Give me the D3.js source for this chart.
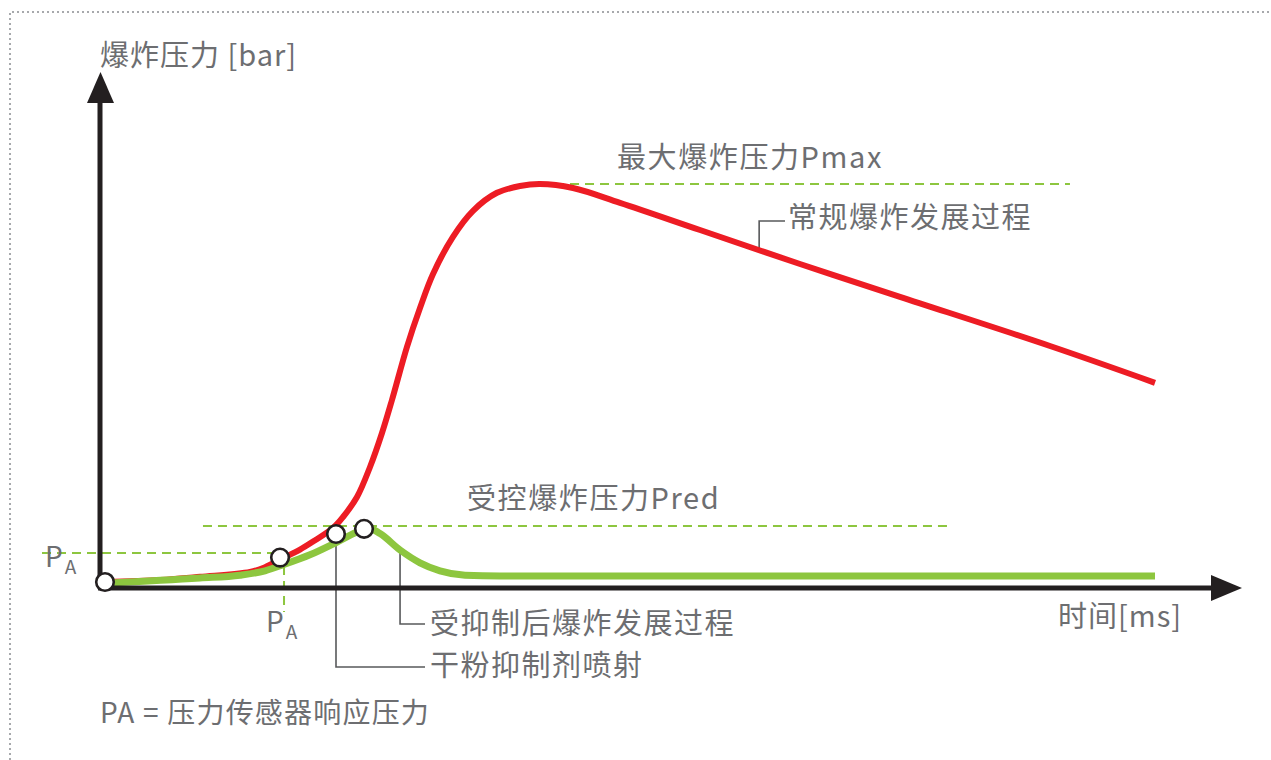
<!DOCTYPE html>
<html><head><meta charset="utf-8">
<script src="https://cdn.jsdelivr.net/npm/d3@7"></script>
<style>
html,body{margin:0;padding:0;background:#fff;}
svg{display:block;}
text{font-family:"Noto Sans CJK SC","Noto Sans",sans-serif;fill:#6d6e71;}
</style></head>
<body>
<svg id="c" width="1271" height="760"></svg>
<script>
// time [ms] (relative units 0..100), pressure [bar] (relative units, Pmax = 10)
const redT = [0,5.24,9.05,13.81,15.24,16.67,18.57,19.81,21.71,22.67,24.0,25.24,26.38,27.33,28.76,30,31.24,33.14,35.05,37.33,39.52,41.43,44.57,49.05,56.67,66.19,75.71,90,100];
const redP = [0.05,0.1,0.18,0.3,0.42,0.61,0.86,1.06,1.4,1.675,2.175,2.925,3.775,4.6,5.93,6.9,7.75,8.68,9.33,9.78,9.95,10,9.9,9.53,8.85,8.0,7.18,5.95,5.03];
const greenT = [0,9.05,12.86,15.24,16.95,19.52,22.1,24,25.05,26.19,28.1,30,31.9,34.29,37.62,100];
const greenP = [0.02,0.15,0.22,0.33,0.48,0.73,1.05,1.3,1.4,1.26,0.85,0.53,0.33,0.22,0.2,0.2];
const markerT = [0,16.67,22,24.67];
const markerP = [0.05,0.66,1.25,1.38];
const pMax = 10, pMaxRange = [41.43,91.9];
const pRed = 1.45, pRedRange = [9.33,80.3];
const pA = 0.775, tA = 17.05;
const tSpray = 22, pSpray = 1.25;
const tSuppressed = 28.1, pSuppressed = 0.85;
const tNormal = 62.3, pNormal = 8.35;

const labels = {
  yAxis: "爆炸压力 [bar]", xAxis: "时间[ms]", pmax: "最大爆炸压力Pmax", pred: "受控爆炸压力Pred",
  normal: "常规爆炸发展过程", suppressed: "受抑制后爆炸发展过程", spray: "干粉抑制剂喷射",
  note: "PA = 压力传感器响应压力"
};

const svg = d3.select("#c");
const x = d3.scaleLinear().domain([0,100]).range([105,1155]);
const y = d3.scaleLinear().domain([0,10]).range([584,184]);
const GREEN = "#8dc63f", RED = "#ed1c24", DARK = "#231f20", GRAY = "#58595b";

// dotted frame
svg.append("path").attr("d","M10,760 L10,12 L1271,12").attr("fill","none")
  .attr("stroke","#a7a9ac").attr("stroke-width",2).attr("stroke-dasharray","2,3");

// dashed reference lines
const dash = (x1,y1,x2,y2)=>svg.append("line").attr("x1",x1).attr("y1",y1).attr("x2",x2).attr("y2",y2)
  .attr("stroke",GREEN).attr("stroke-width",2).attr("stroke-dasharray","9,6");
dash(x(pMaxRange[0]),y(pMax),x(pMaxRange[1]),y(pMax));
dash(x(pRedRange[0]),y(pRed),x(pRedRange[1]),y(pRed));
dash(42,y(pA),x(tA)-8,y(pA));
dash(x(tA),y(pA)+13,x(tA),612);

// leader lines
const lead = pts => svg.append("path").attr("d",d3.line()(pts)).attr("fill","none")
  .attr("stroke",GRAY).attr("stroke-width",1.6);
lead([[x(tNormal),y(pNormal)],[x(tNormal),221],[785,221]]);
lead([[x(tSuppressed),y(pSuppressed)],[x(tSuppressed),624],[425,624]]);
lead([[x(tSpray),y(pSpray)],[x(tSpray),667],[425,667]]);

// curves
const redLine = d3.line().x(d=>x(d[0])).y(d=>y(d[1])).curve(d3.curveCatmullRom.alpha(0.5));
const greenLine = d3.line().x(d=>x(d[0])).y(d=>y(d[1])).curve(d3.curveMonotoneX);
svg.append("path").datum(redT.map((t,i)=>[t,redP[i]])).attr("d",redLine)
  .attr("fill","none").attr("stroke",RED).attr("stroke-width",6);
svg.append("path").datum(greenT.map((t,i)=>[t,greenP[i]])).attr("d",greenLine)
  .attr("fill","none").attr("stroke",GREEN).attr("stroke-width",7);

// axes
svg.append("line").attr("x1",100).attr("y1",588).attr("x2",100).attr("y2",100).attr("stroke",DARK).attr("stroke-width",5);
svg.append("path").attr("d","M87,103 L114,103 L100.5,72 Z").attr("fill",DARK);
svg.append("line").attr("x1",98).attr("y1",588).attr("x2",1214).attr("y2",588).attr("stroke",DARK).attr("stroke-width",5);
svg.append("path").attr("d","M1211,575 L1211,601 L1242,588 Z").attr("fill",DARK);

// markers
svg.selectAll("circle.m").data(markerT).enter().append("circle")
  .attr("cx",(d)=>x(d)).attr("cy",(d,i)=>y(markerP[i])).attr("r",8.8)
  .attr("fill","#fff").attr("stroke",DARK).attr("stroke-width",2.6);

// texts
const txt = (s,tx,ty,fs,ls)=>svg.append("text").attr("x",tx).attr("y",ty).attr("font-size",fs)
  .attr("letter-spacing",ls||0).text(s);
txt(labels.yAxis,100,66,29,1);
txt(labels.pmax,617,168,29,1.6);
txt(labels.normal,788,228,29,1.5);
txt(labels.pred,467,509,29,1.6);
txt(labels.xAxis,1058,627,29,1);
txt(labels.suppressed,430,634,29,1.5);
txt(labels.spray,430,676,29,1.5);
txt(labels.note,100,723,28,1.2);

// P_A labels
const pa = (px,py)=>{ const t=svg.append("text").attr("x",px).attr("y",py).attr("font-size",28);
  t.append("tspan").text("P"); t.append("tspan").attr("font-size",19).attr("dx",2).attr("dy",7).text("A"); };
pa(45,567);
pa(266,632);
</script>
</body></html>
